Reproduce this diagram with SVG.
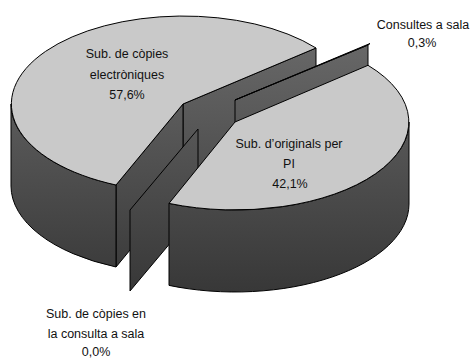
<svg xmlns="http://www.w3.org/2000/svg" width="473" height="361" viewBox="0 0 473 361">
  <defs>
    <linearGradient id="side" gradientUnits="userSpaceOnUse" x1="0" y1="40" x2="0" y2="300">
      <stop offset="0" stop-color="#686868"/>
      <stop offset="1" stop-color="#363636"/>
    </linearGradient>
  </defs>
  <style>
    .top { fill: #c9c9c9; stroke: #000; stroke-width: 1; stroke-linejoin: round; }
    .side { fill: url(#side); stroke: #000; stroke-width: 1; stroke-linejoin: round; }
    .lbl { font-family: "Liberation Sans", Arial, sans-serif; font-size: 12.5px; fill: #111; text-anchor: middle; }
  </style>
  <rect width="473" height="361" fill="#fff"/>

  <!-- Slice: Sub. de còpies electròniques 57,6% -->
  <g id="slice-copies-electroniques">
    <path class="side" d="M183,104 L316,48 L316,130 L183,186 Z"/>
    <path class="side" d="M183,104 L116,185 L116,267 L183,186 Z"/>
    <path class="side" d="M116,185 A172,88 0 0,1 11,104 L11,186 A172,88 0 0,0 116,267 Z"/>
    <path class="top" d="M183,104 L116,185 A172,88 0 1,1 316,48 Z"/>
  </g>

  <!-- Slice: Consultes a sala 0,3% -->
  <g id="slice-consultes-sala">
    <path class="side" d="M235,100 L368,45 L368,127 L235,182 Z"/>
    <path class="top" d="M235,100 L368,45 L370,43.5 Z"/>
  </g>

  <!-- Slice: Sub. de còpies en la consulta a sala 0,0% -->
  <g id="slice-copies-consulta">
    <path class="side" d="M198,129 L130,210 L130,291 L198,210 Z"/>
  </g>

  <!-- Slice: Sub. d'originals per PI 42,1% -->
  <g id="slice-originals-pi">
    <path class="side" d="M409,122 A174,88 0 0,1 169,203.4 L169,285.4 A174,88 0 0,0 409,204 Z"/>
    <path class="top" d="M235,122 L368,65.3 A174,88 0 0,1 169,203.4 Z"/>
  </g>

  <g id="labels">
    <text class="lbl" x="127" y="58">Sub. de còpies</text>
    <text class="lbl" x="127" y="78.5">electròniques</text>
    <text class="lbl" x="127" y="99">57,6%</text>

    <text class="lbl" x="289" y="148">Sub. d’originals per</text>
    <text class="lbl" x="289" y="168">PI</text>
    <text class="lbl" x="290" y="188">42,1%</text>

    <text class="lbl" x="423" y="29">Consultes a sala</text>
    <text class="lbl" x="422" y="47">0,3%</text>

    <text class="lbl" x="96" y="318">Sub. de còpies en</text>
    <text class="lbl" x="96" y="337.5">la consulta a sala</text>
    <text class="lbl" x="96" y="356">0,0%</text>
  </g>
</svg>
